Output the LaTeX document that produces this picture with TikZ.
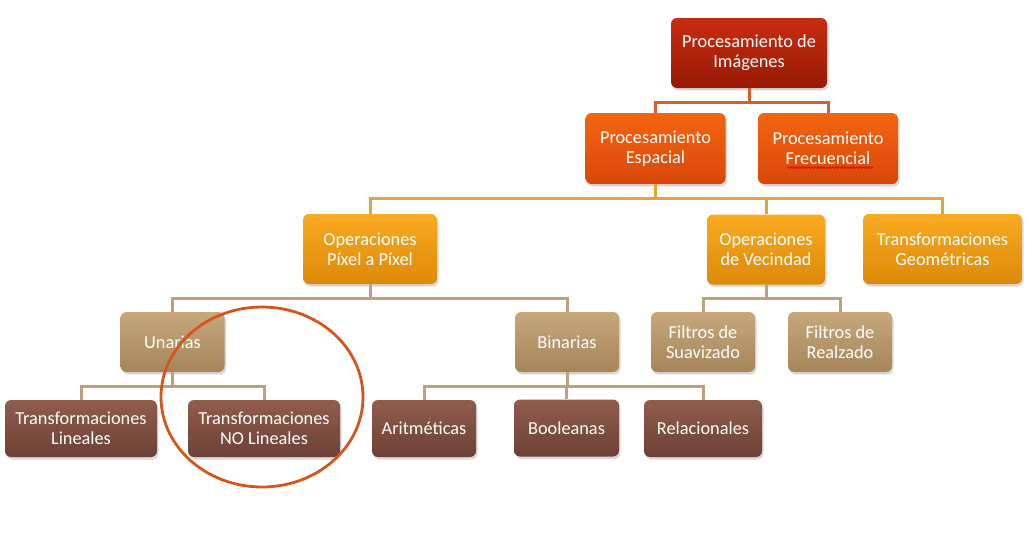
\documentclass[tikz,border=0pt]{standalone}
\usepackage{fontspec}
\setmainfont{Carlito}
\usetikzlibrary{shadows,decorations.pathmorphing}
\usepackage{xcolor}

\definecolor{rootTop}{HTML}{C82C10}
\definecolor{rootBot}{HTML}{971A06}
\definecolor{dosTop}{HTML}{F4650F}
\definecolor{dosBot}{HTML}{D8470A}
\definecolor{tresTop}{HTML}{FAAB20}
\definecolor{tresBot}{HTML}{DD890A}
\definecolor{cuatroTop}{HTML}{C6A87C}
\definecolor{cuatroBot}{HTML}{A5865B}
\definecolor{cincoTop}{HTML}{905D4C}
\definecolor{cincoBot}{HTML}{6C4135}
\definecolor{linkA}{HTML}{DA5F26}
\definecolor{linkB}{HTML}{EAA23A}
\definecolor{linkC}{HTML}{BAA27F}
\definecolor{ringCol}{HTML}{D4561C}

\begin{document}
\begin{tikzpicture}[
    x=1pt, y=-1pt,
    every node/.style={font=\fontsize{18.3}{20}\selectfont, text=white, align=center},
    box/.style={rounded corners=6pt, inner sep=2pt,
        drop shadow={shadow xshift=1.5pt, shadow yshift=-2.5pt, opacity=0.3}},
    lvl0/.style={box, top color=rootTop, bottom color=rootBot, minimum width=156pt, minimum height=70pt},
    lvl1/.style={box, top color=dosTop, bottom color=dosBot, minimum width=140pt, minimum height=71pt},
    lvl2/.style={box, top color=tresTop, bottom color=tresBot, minimum height=70pt},
    lvl3/.style={box, top color=cuatroTop, bottom color=cuatroBot, minimum width=104pt, minimum height=60pt},
    lvl4/.style={box, top color=cincoTop, bottom color=cincoBot, minimum height=57pt},
    link/.style={line width=3pt},
    ring/.style={line width=2.8pt, draw=ringCol},
    squiggle/.style={red!85!black, line width=0.6pt, decorate,
        decoration={snake, amplitude=0.9pt, segment length=3pt}}
]
    \useasboundingbox (0,0) rectangle (1031,536);

    % Level 0: root
    \node[lvl0] (root) at (749,53) {Procesamiento de\\Imágenes};

    % Level 1: domains
    \node[lvl1] (espacial) at (655.5,148.5) {Procesamiento\\Espacial};
    \node[lvl1] (frecuencial) at (828,148.5) {Procesamiento\\Frecuencial};

    % Level 2: kinds of operations
    \node[lvl2, minimum width=134pt] (pixel) at (370,249) {Operaciones\\Píxel a Píxel};
    \node[lvl2, minimum width=118pt] (vecindad) at (766,249.5) {Operaciones\\de Vecindad};
    \node[lvl2, minimum width=159pt] (geometricas) at (942.5,249) {Transformaciones\\Geométricas};

    % Level 3
    \node[lvl3] (unarias) at (172.5,342) {Unarias};
    \node[lvl3] (binarias) at (567,342) {Binarias};
    \node[lvl3] (suavizado) at (703,342) {Filtros de\\Suavizado};
    \node[lvl3] (realzado) at (840,342) {Filtros de\\Realzado};

    % Level 4: leaves
    \node[lvl4, minimum width=152pt] (lineales) at (81,428.5) {Transformaciones\\Lineales};
    \node[lvl4, minimum width=152pt] (nolineales) at (264,428.5) {Transformaciones\\NO Lineales};
    \node[lvl4, minimum width=104pt] (aritmeticas) at (424,428.5) {Aritméticas};
    \node[lvl4, minimum width=105pt] (booleanas) at (566.5,428) {Booleanas};
    \node[lvl4, minimum width=118pt] (relacionales) at (703,428.5) {Relacionales};

    % Draw links
    \draw[link, linkA] (root.south) -- ++(0,14) -| (espacial.north);
    \draw[link, linkA] (root.south) -- ++(0,14) -| (frecuencial.north);
    \draw[link, linkB] (espacial.south) -- ++(0,14) -| (pixel.north);
    \draw[link, linkB] (espacial.south) -- ++(0,14) -| (vecindad.north);
    \draw[link, linkB] (espacial.south) -- ++(0,14) -| (geometricas.north);
    \draw[link, linkC] (pixel.south) -- ++(0,14) -| (unarias.north);
    \draw[link, linkC] (pixel.south) -- ++(0,14) -| (binarias.north);
    \draw[link, linkC] (vecindad.south) -- ++(0,14) -| (suavizado.north);
    \draw[link, linkC] (vecindad.south) -- ++(0,14) -| (realzado.north);
    \draw[link, linkC] (unarias.south) -- ++(0,14.5) -| (lineales.north);
    \draw[link, linkC] (unarias.south) -- ++(0,14.5) -| (nolineales.north);
    \draw[link, linkC] (binarias.south) -- ++(0,14.5) -| (aritmeticas.north);
    \draw[link, linkC] (binarias.south) -- ++(0,14.5) -| (booleanas.north);
    \draw[link, linkC] (binarias.south) -- ++(0,14.5) -| (relacionales.north);

    % spell-check mark and highlight ring
    \draw[squiggle] ([shift={(-41,19)}]frecuencial.center) -- ([shift={(45,19)}]frecuencial.center);
    \draw[ring] (262,397) ellipse [x radius=101, y radius=90];
\end{tikzpicture}
\end{document}
